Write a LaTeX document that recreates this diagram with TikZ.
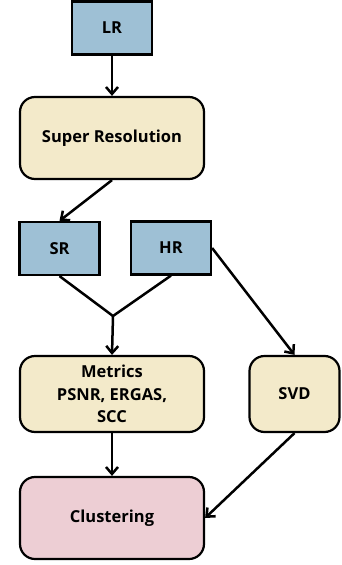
\documentclass[tikz,border=0pt]{standalone}
\usepackage{xcolor}
\usepackage{fontspec}
\setmainfont{Open Sans}
\usepackage{tikz}
\usetikzlibrary{arrows.meta}
\definecolor{imgblue}{RGB}{158,192,213}
\definecolor{stepyellow}{RGB}{243,234,202}
\definecolor{clusterpink}{RGB}{237,206,212}
\tikzset{
  imgbox/.style={draw, line width=2.2pt, fill=imgblue, minimum width=80pt, minimum height=53pt},
  stepbox/.style={draw, line width=2.2pt, fill=stepyellow, rounded corners=15pt, align=center},
  flow/.style={line width=2.5pt, -{Straight Barb[length=7pt,width=12pt,line width=2.5pt]}}
}

\begin{document}
\begin{tikzpicture}[x=1pt,y=-1pt,every node/.style={font=\fontsize{16.5}{22.5}\selectfont\bfseries}]
   \useasboundingbox (0,0) rectangle (342,565);
   \node[imgbox] (lr) at (112,28) {LR};
   \node[stepbox, minimum width=184pt, minimum height=82pt] (superres) at (112,138) {Super Resolution};
   \node[imgbox] (sr) at (59.5,248.5) {SR};
   \node[imgbox] (hr) at (171,248) {HR};
   \coordinate (join) at (113,316);
   \node[stepbox, minimum width=184pt, minimum height=76pt] (metrics) at (112,394) {Metrics\\PSNR, ERGAS,\\SCC};
   \node[stepbox, minimum width=90pt, minimum height=76pt] (svd) at (294.5,394) {SVD};
   \node[stepbox, fill=clusterpink, minimum width=184pt, minimum height=82pt] (clustering) at (112,518) {Clustering};
   \draw[flow] (lr.south) -- (superres.north);
   \draw[flow] (superres.south) -- (sr.north);
   \draw[line width=2.5pt] (sr.south) -- (join) -- (hr.south);
   \draw[flow] (join) -- (metrics.north);
   \draw[flow] (hr.east) -- (svd.north);
   \draw[flow] (metrics.south) -- (clustering.north);
   \draw[flow] (svd.south) -- (clustering.east);
\end{tikzpicture}
\end{document}
